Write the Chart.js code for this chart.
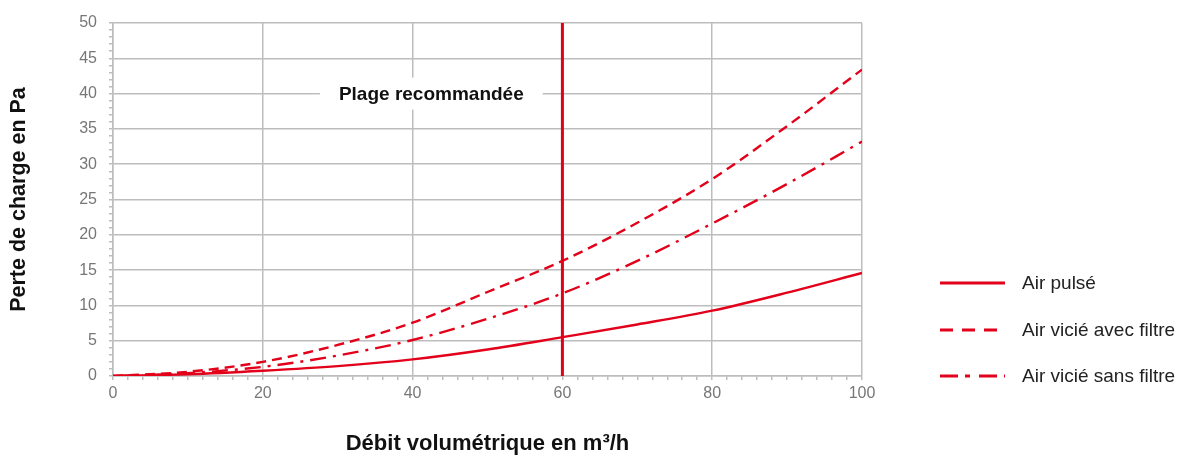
<!DOCTYPE html>
<html lang="fr">
<head>
<meta charset="utf-8">
<title>Perte de charge</title>
<script src="https://cdn.jsdelivr.net/npm/chart.js@4"></script>
<style>
  html, body { margin: 0; padding: 0; background: #fff; }
  #wrap { width: 1177px; height: 457px; }
</style>
</head>
<body>
<div id="wrap"><canvas id="chart" width="1177" height="457"></canvas></div>
<script>
// Débit (m³/h) and pressure loss (Pa) read every 10 m³/h
const debit = [0, 10, 20, 30, 40, 50, 60, 70, 80, 90, 100];
const airPulse = [0, 0.25, 0.75, 1.4, 2.35, 3.75, 5.5, 7.3, 9.25, 11.8, 14.6];
const airVicieAvecFiltre = [0, 0.6, 2.0, 4.4, 7.55, 11.9, 16.3, 21.7, 27.9, 35.4, 43.4];
const airVicieSansFiltre = [0, 0.4, 1.3, 2.9, 5.1, 8.1, 11.7, 16.3, 21.6, 27.2, 33.2];
const seriesLabels = ["Air pulsé", "Air vicié avec filtre", "Air vicié sans filtre"];

// recommended range ends at 60 m³/h
const plageMax = 60;
const plageLabel = "Plage recommandée";
const plageLabelAt = { x: 42.5, y: 40 };

const xMax = 100;
const yMax = 50;

const RED = "#e2001a";
const GRID = "#bdbdbd";
const FONT = "'Liberation Sans', Arial, Helvetica, sans-serif";

Chart.defaults.font.family = FONT;

function curve(label, values, dash, legendDash, legendY) {
  return {
    label,
    data: values.map((v, i) => ({ x: debit[i], y: v })),
    borderColor: RED,
    backgroundColor: "transparent",
    borderWidth: 2.4,
    borderDash: dash,
    pointRadius: 0,
    cubicInterpolationMode: "monotone",
    legendDash,
    legendY,
  };
}

// white box + bold caption sitting on the 40 Pa grid line
const plageLabelPlugin = {
  id: "plageLabel",
  beforeDatasetsDraw(chart) {
    const { ctx, scales } = chart;
    const cx = scales.x.getPixelForValue(plageLabelAt.x);
    const cy = scales.y.getPixelForValue(plageLabelAt.y);
    ctx.save();
    ctx.font = `bold 19px ${FONT}`;
    const w = ctx.measureText(plageLabel).width + 38;
    ctx.fillStyle = "#fff";
    ctx.fillRect(cx - w / 2, cy - 16, w, 32);
    ctx.fillStyle = "#111";
    ctx.textAlign = "center";
    ctx.textBaseline = "middle";
    ctx.fillText(plageLabel, cx, cy + 1);
    ctx.restore();
  },
};

// legend drawn at the right, one row per curve
const sideLegend = {
  id: "sideLegend",
  afterDraw(chart) {
    const { ctx } = chart;
    ctx.save();
    ctx.font = `19px ${FONT}`;
    ctx.textBaseline = "middle";
    chart.data.datasets
      .filter((d) => d.legendY)
      .forEach((d) => {
        ctx.strokeStyle = d.borderColor;
        ctx.lineWidth = 3;
        ctx.setLineDash(d.legendDash);
        ctx.beginPath();
        ctx.moveTo(940, d.legendY);
        ctx.lineTo(1005, d.legendY);
        ctx.stroke();
        ctx.fillStyle = "#222";
        ctx.fillText(d.label, 1022, d.legendY + 1);
      });
    ctx.restore();
  },
};

new Chart(document.getElementById("chart"), {
  type: "line",
  data: {
    datasets: [
      curve(seriesLabels[0], airPulse, [], [], 283),
      curve(seriesLabels[1], airVicieAvecFiltre, [10, 6], [13, 9], 330),
      curve(seriesLabels[2], airVicieSansFiltre, [16, 7, 3, 7], [18, 7, 5, 9], 376),
      {
        label: plageLabel,
        data: [
          { x: plageMax, y: 0 },
          { x: plageMax, y: yMax },
        ],
        borderColor: RED,
        borderWidth: 3,
        pointRadius: 0,
      },
    ],
  },
  options: {
    responsive: false,
    animation: false,
    layout: { padding: { top: 23, right: 315, bottom: 0, left: 0 } },
    plugins: {
      legend: { display: false },
      tooltip: { enabled: false },
    },
    scales: {
      x: {
        type: "linear",
        min: 0,
        max: xMax,
        afterFit: (s) => {
          s.height = 81;
        },
        ticks: {
          stepSize: 2,
          maxTicksLimit: 60,
          autoSkip: false,
          maxRotation: 0,
          padding: 4,
          color: "#777",
          font: { size: 16 },
          callback: (v) => (v % 20 === 0 ? v : ""),
        },
        grid: {
          color: (c) => (c.tick && c.tick.value % 20 === 0 ? GRID : "transparent"),
          tickColor: GRID,
          tickLength: 4,
          lineWidth: 1.5,
        },
        border: { color: GRID, width: 1.5 },
        title: {
          display: true,
          text: "Débit volumétrique en m³/h",
          color: "#111",
          font: { size: 22, weight: "bold" },
          padding: { top: 0, bottom: 0 },
        },
      },
      y: {
        type: "linear",
        min: 0,
        max: yMax,
        afterFit: (s) => {
          s.width = 113;
        },
        ticks: {
          stepSize: 1,
          maxTicksLimit: 60,
          autoSkip: false,
          padding: 12,
          color: "#777",
          font: { size: 16 },
          callback: (v) => (v % 5 === 0 ? v : ""),
        },
        grid: {
          color: (c) => (c.tick && c.tick.value % 5 === 0 ? GRID : "transparent"),
          tickColor: GRID,
          tickLength: 4,
          lineWidth: 1.5,
        },
        border: { color: GRID, width: 1.5 },
        title: {
          display: true,
          text: "Perte de charge en Pa",
          color: "#111",
          font: { size: 21.5, weight: "bold" },
          padding: { top: 6, bottom: 0 },
        },
      },
    },
  },
  plugins: [plageLabelPlugin, sideLegend],
});
</script>
</body>
</html>
